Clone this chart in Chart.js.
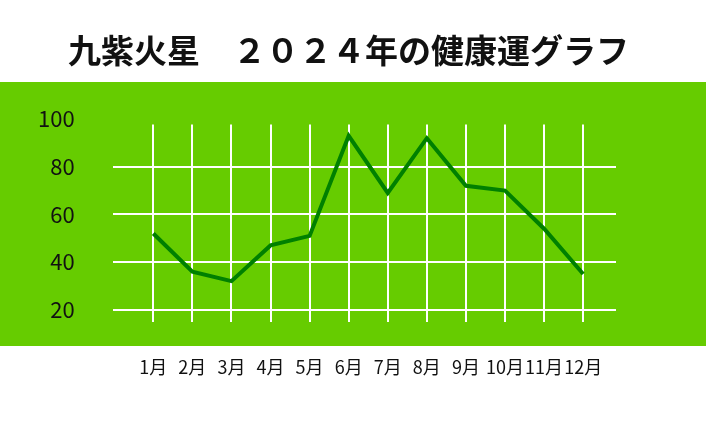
<!DOCTYPE html>
<html>
<head>
<meta charset="utf-8">
<script src="https://cdn.jsdelivr.net/npm/chart.js@4.4.1/dist/chart.umd.min.js"></script>
<style>
  html, body { margin: 0; padding: 0; background: #fff; }
  #wrap { width: 706px; height: 423px; }
</style>
</head>
<body>
<div id="wrap"><canvas id="healthChart"></canvas></div>
<script>
const titleText = '九紫火星　２０２４年の健康運グラフ';
const months = ['1月', '2月', '3月', '4月', '5月', '6月', '7月', '8月', '9月', '10月', '11月', '12月'];
const healthScore = [52, 36, 32, 47, 51, 93, 69, 92, 72, 70, 54, 35];
const yTicks = [20, 40, 60, 80, 100];

const jpFont = '"Noto Sans CJK JP", "Noto Sans", sans-serif';
const narrowFont = '"Liberation Sans Narrow", "Noto Sans CJK JP", sans-serif';

// green band behind the plot
const bandPlugin = {
  id: 'band',
  beforeDraw(chart) {
    const { ctx, width } = chart;
    ctx.save();
    ctx.fillStyle = '#66cc00';
    ctx.fillRect(0, 82, width, 264);
    ctx.restore();
  }
};

const ctx = document.getElementById('healthChart').getContext('2d');
new Chart(ctx, {
  type: 'line',
  data: {
    datasets: [{
      data: healthScore.map((v, i) => ({ x: i + 1, y: v })),
      borderColor: '#008000',
      borderWidth: 4,
      pointRadius: 0,
      tension: 0,
      fill: false
    }]
  },
  options: {
    responsive: true,
    maintainAspectRatio: false,
    animation: false,
    // note: chart.js reserves tick padding twice, so outer padding is small
    layout: { padding: { left: 0, right: 9, top: 0, bottom: 11 } },
    plugins: {
      legend: { display: false },
      tooltip: { enabled: false },
      title: {
        display: true,
        text: titleText,
        color: '#111',
        font: { family: jpFont, size: 33, weight: 'bold' },
        padding: { top: 31, bottom: 54 }
      }
    },
    scales: {
      x: {
        type: 'linear',
        min: -0.04,
        max: 12.84,
        afterBuildTicks: (scale) => {
          scale.ticks = months.map((m, i) => ({ value: i + 1 }));
        },
        ticks: {
          autoSkip: false,
          maxRotation: 0,
          padding: 34,
          color: '#111',
          font: { family: narrowFont, size: 18 },
          callback: (v) => months[v - 1]
        },
        grid: { color: '#fff', lineWidth: 2, drawTicks: false },
        border: { display: false }
      },
      y: {
        min: 14.7,
        max: 97.7,
        afterBuildTicks: (scale) => {
          scale.ticks = yTicks.map(v => ({ value: v }));
        },
        ticks: {
          padding: 38,
          color: '#111',
          font: { family: jpFont, size: 22 }
        },
        grid: {
          color: (c) => (c.tick && c.tick.value === 100 ? 'rgba(0,0,0,0)' : '#fff'),
          lineWidth: 2,
          drawTicks: false
        },
        border: { display: false }
      },
      // empty right axis, only keeps the plot clear of the right edge
      yRight: {
        position: 'right',
        ticks: { display: false },
        grid: { display: false },
        border: { display: false },
        afterFit: (scale) => { scale.width = 81; }
      }
    }
  },
  plugins: [bandPlugin]
});
</script>
</body>
</html>
